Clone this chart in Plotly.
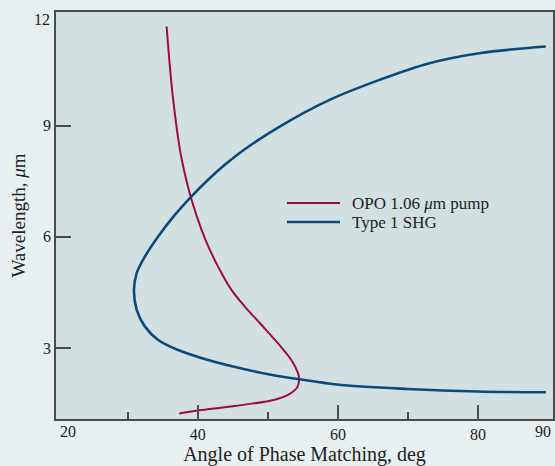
import plotly.graph_objects as go

# OPO 1.06 um pump (angle deg, wavelength um)
opo_angle = [35.54, 36.01, 36.48, 37.44, 38.01, 39.10, 40.53, 41.71, 43.13, 44.80, 46.70,
             49.07, 51.44, 53.35, 54.29, 54.46, 54.17, 52.86, 50.97, 45.27, 40.04, 37.34]
opo_wl = [11.67, 10.59, 9.69, 8.35, 7.81, 7.00, 6.19, 5.65, 5.11, 4.57, 4.12,
          3.63, 3.13, 2.68, 2.33, 2.15, 1.94, 1.74, 1.61, 1.44, 1.32, 1.24]

# Type 1 SHG
shg_angle = [89.67, 80.17, 73.05, 65.93, 58.80, 51.68, 46.70, 43.85, 41.47, 39.10, 36.72,
             34.34, 32.45, 31.27, 30.88, 31.27, 32.45, 34.34, 37.19, 41.47, 46.70, 50.26,
             54.53, 59.80, 69.87, 79.93, 89.67]
shg_wl = [11.13, 10.95, 10.68, 10.23, 9.69, 8.97, 8.36, 7.94, 7.54, 7.09, 6.59,
          6.01, 5.47, 5.02, 4.57, 4.03, 3.58, 3.22, 2.95, 2.68, 2.43, 2.29,
          2.16, 2.02, 1.90, 1.83, 1.81]

x_major = [40, 60, 80]
x_minor = [30, 50, 70]
y_ticks = [3, 6, 9]
series_names = ["OPO 1.06 <i>μ</i>m pump", "Type 1 SHG"]

RED = "#9e0b3f"
BLUE = "#0b4a7b"
FONT = "Liberation Serif, DejaVu Serif, serif"
TXT = "#222"
AX = "#4a4a4a"

fig = go.Figure()
fig.add_trace(go.Scatter(x=opo_angle, y=opo_wl, mode="lines", name=series_names[0],
                         line=dict(color=RED, width=2, shape="spline", smoothing=1.0)))
fig.add_trace(go.Scatter(x=shg_angle, y=shg_wl, mode="lines", name=series_names[1],
                         line=dict(color=BLUE, width=2.6, shape="spline", smoothing=1.0)))

axis_common = dict(showline=True, linecolor=AX, linewidth=1.5, mirror=True,
                   showgrid=False, zeroline=False, ticks="inside", tickcolor=AX,
                   tickwidth=1.5, tickfont=dict(family=FONT, size=16, color=TXT))

fig.update_layout(
    width=555, height=466,
    margin=dict(l=56, r=2, t=12, b=47, autoexpand=False),
    paper_bgcolor="#e8eff0",
    plot_bgcolor="#d3e0e1",
    font=dict(family=FONT, color=TXT),
    showlegend=False,
    xaxis=dict(axis_common, range=[19.75, 90.7], tickvals=x_major,
               ticktext=[str(v) for v in x_major], ticklen=14,
               minor=dict(tickvals=x_minor, ticklen=7, tickcolor=AX, tickwidth=1.5, ticks="inside"),
               title=dict(text="Angle of Phase Matching, deg", font=dict(family=FONT, size=20, color=TXT),
                          standoff=4)),
    yaxis=dict(axis_common, range=[1.09, 12.06], tickvals=y_ticks,
               ticktext=[str(v) for v in y_ticks], ticklen=15,
               title=dict(text="Wavelength, <i>μ</i>m", font=dict(family=FONT, size=19, color=TXT),
                          standoff=12)),
)

# corner tick labels
tick_font = dict(family=FONT, size=16, color=TXT)
fig.add_annotation(text="12", xref="paper", yref="y", x=0, y=11.85, xanchor="right", yanchor="middle",
                   xshift=-4, showarrow=False, font=tick_font)
fig.add_annotation(text="1", xref="paper", yref="y", x=0, y=1.04, xanchor="right", yanchor="middle",
                   xshift=-4, showarrow=False, font=tick_font)
fig.add_annotation(text="20", xref="x", yref="paper", x=20, y=0, xanchor="left", yanchor="top",
                   yshift=-2, showarrow=False, font=tick_font)
fig.add_annotation(text="90", xref="paper", yref="paper", x=1, y=0, xanchor="right", yanchor="top",
                   yshift=-2, showarrow=False, font=tick_font)

# legend (drawn as key lines + labels)
leg_rows = [0.5307, 0.4840]
for name, color, width, yy in zip(series_names, [RED, BLUE], [2, 2.6], leg_rows):
    fig.add_shape(type="line", xref="paper", yref="paper", x0=0.4648, x1=0.5714, y0=yy, y1=yy,
                  line=dict(color=color, width=width))
    fig.add_annotation(text=name, xref="paper", yref="paper", x=0.5916, y=yy, xanchor="left",
                       yanchor="middle", showarrow=False, font=dict(family=FONT, size=17, color=TXT))

fig.write_html("out.html", config={"displayModeBar": False},
               post_script="document.body.style.margin='0';document.body.style.overflow='hidden';")
